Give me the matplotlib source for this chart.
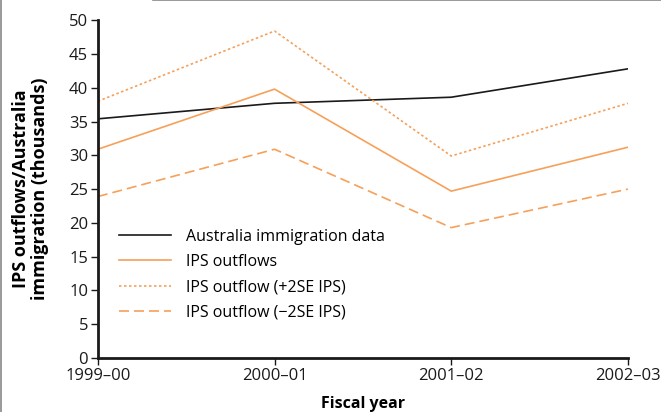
import matplotlib
matplotlib.use("Agg")
import matplotlib.pyplot as plt
from matplotlib.lines import Line2D

years = ['1999\u201300', '2000\u201301', '2001\u201302', '2002\u201303']
australia = [35.4, 37.7, 38.6, 42.8]
ips_outflows = [30.9, 39.8, 24.7, 31.2]
ips_plus2se = [38.0, 48.4, 29.9, 37.7]
ips_minus2se = [23.9, 30.9, 19.3, 25.0]

orange = '#f6a05a'
plt.rcParams['font.family'] = ['Open Sans', 'DejaVu Sans']

fig = plt.figure(figsize=(6.61, 4.12), dpi=100)
ax = fig.add_axes([0.148, 0.131, 0.802, 0.820])

x = range(len(years))
ax.plot(x, australia, color='#1a1a1a', lw=1.2, label='Australia immigration data')
ax.plot(x, ips_outflows, color=orange, lw=1.2, label='IPS outflows')
ax.plot(x, ips_plus2se, color=orange, lw=1.2, ls=(0, (1.5, 1.5)), label='IPS outflow (+2SE IPS)')
ax.plot(x, ips_minus2se, color=orange, lw=1.2, ls=(0, (6, 3)), label='IPS outflow (\u22122SE IPS)')

ax.set_xlim(0, 3)
ax.set_ylim(0, 50)
ax.set_yticks(range(0, 51, 5))
ax.set_xticks(list(x))
ax.set_xticklabels(years)

for s in ['top', 'right']:
    ax.spines[s].set_visible(False)
for s in ['left', 'bottom']:
    ax.spines[s].set_linewidth(2)
    ax.spines[s].set_color('#1a1a1a')
ax.tick_params(direction='out', length=5, width=1, labelsize=12, colors='#1a1a1a', pad=2)

ax.set_xlabel('Fiscal year', fontsize=11.5, fontweight='bold', labelpad=9)
ax.set_ylabel('IPS outflows/Australia\nimmigration (thousands)', fontsize=13,
              fontweight='bold', labelpad=14, linespacing=1.1)

ax.legend(loc='lower left', bbox_to_anchor=(0.027, 0.092), frameon=False, fontsize=11.5,
          handlelength=3.3, handletextpad=0.95, labelspacing=0.58, borderpad=0.4,
          borderaxespad=0)

# thin grey frame edges from the source page
fig.add_artist(Line2D([0.001, 0.001], [0, 1], color='#888888', lw=1.2, transform=fig.transFigure))
fig.add_artist(Line2D([0.232, 1], [0.999, 0.999], color='#888888', lw=1.2, transform=fig.transFigure))

fig.savefig('out.png', dpi=100)
